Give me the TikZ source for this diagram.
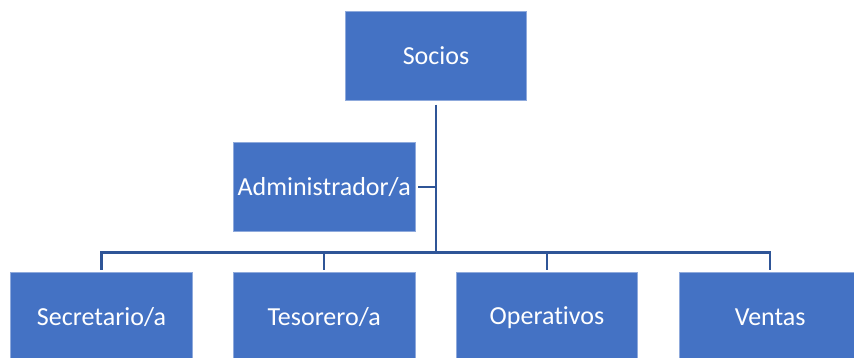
\documentclass[tikz,border=0pt]{standalone}
\usepackage{fontspec}
\setmainfont{Carlito}[Ligatures={NoCommon}]
\definecolor{boxfill}{HTML}{4472C4}
\definecolor{boxedge}{HTML}{8FAADC}
\definecolor{connc}{HTML}{2F5597}
\begin{document}
\begin{tikzpicture}[x=1pt,y=1pt,
  orgbox/.style={rectangle, fill=boxfill, draw=boxedge, line width=0.7pt,
    minimum width=181.5pt, minimum height=89pt, inner sep=0pt,
    text=white, font=\fontsize{26}{31}\selectfont},
  conn/.style={draw=connc, line width=2.2pt}]
\useasboundingbox (0,0) rectangle (854,358);
\clip (0,0) rectangle (854,358);
\node[orgbox] (soc) at (436,302.2) {Socios};
\node[orgbox] (adm) at (324.2,171.3) {Administrador/a};
\node[orgbox] (sec) at (101.5,40.8) {Secretario/a};
\node[orgbox] (tes) at (324.2,40.8) {Tesorero/a};
\node[orgbox] (ope) at (547,40.8) {Operativos};
\node[orgbox] (ven) at (770.2,40.8) {Ventas};
\coordinate (bus) at (436,105.5);
\draw[conn] ([yshift=-4pt]soc.south) -- (bus);
\draw[conn] ([xshift=3pt]adm.east) -- (adm.east -| soc.south);
\draw[conn] (bus) -| ([yshift=2.5pt]sec.north);
\draw[conn] (bus) -| ([yshift=2.5pt]tes.north);
\draw[conn] (bus) -| ([yshift=2.5pt]ope.north);
\draw[conn] (bus) -| ([yshift=2.5pt]ven.north);
\end{tikzpicture}
\end{document}
